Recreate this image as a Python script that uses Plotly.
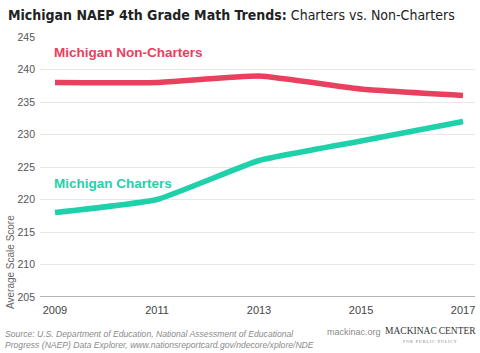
import plotly.graph_objects as go

years = [2009, 2011, 2013, 2015, 2017]
non_charters = [238, 238, 239, 237, 236]
charters = [218, 220, 226, 229, 232]
y_ticks = [205, 210, 215, 220, 225, 230, 235, 240, 245]

RED = "#e8405e"
TEAL = "#1fd1aa"

W, H = 480, 353
L, R, T, B = 40, 5, 37, 56
pw, ph = W - L - R, H - T - B

def px(x):
    return (x - L) / pw

def py(y):
    return (H - B - y) / ph

fig = go.Figure()
fig.add_trace(go.Scatter(x=years, y=non_charters, mode="lines",
                         line=dict(color=RED, width=5.5, shape="spline", smoothing=0.4),
                         hoverinfo="skip"))
fig.add_trace(go.Scatter(x=years, y=charters, mode="lines",
                         line=dict(color=TEAL, width=5.5, shape="spline", smoothing=0.4),
                         hoverinfo="skip"))

ann = []
ann.append(dict(text="Michigan Non-Charters", x=2009, y=242.6, xref="x", yref="y",
                xanchor="left", yanchor="middle", xshift=-3, showarrow=False,
                font=dict(family="Arial", size=13.5, color=RED, weight="bold")))
ann.append(dict(text="Michigan Charters", x=2009, y=222.4, xref="x", yref="y",
                xanchor="left", yanchor="middle", xshift=-3, showarrow=False,
                font=dict(family="Arial", size=13.5, color=TEAL, weight="bold")))
ann.append(dict(text="<b>Michigan NAEP 4th Grade Math Trends:</b> Charters vs. Non-Charters",
                x=px(6), y=py(15), xref="paper", yref="paper", xanchor="left", yanchor="middle",
                showarrow=False,
                font=dict(family="DejaVu Sans Condensed, Arial", size=14, color="#222")))
ann.append(dict(text="Average Scale Score", x=px(10), y=py(262), xref="paper", yref="paper",
                xanchor="center", yanchor="middle", textangle=-90, showarrow=False,
                font=dict(family="Arial", size=10, color="#666")))
ann.append(dict(text="<i>Source: U.S. Department of Education, National Assessment of Educational<br>Progress (NAEP) Data Explorer, www.nationsreportcard.gov/ndecore/xplore/NDE</i>",
                x=px(3), y=py(339), xref="paper", yref="paper", xanchor="left", yanchor="middle",
                align="left", showarrow=False,
                font=dict(family="Arial", size=8.6, color="#8a8a8a")))
ann.append(dict(text="mackinac.org", x=px(325), y=py(332), xref="paper", yref="paper",
                xanchor="left", yanchor="middle", showarrow=False,
                font=dict(family="Arial", size=9, color="#8a8a8a")))
ann.append(dict(text="MACKINAC\u2009CENTER", x=px(430), y=py(331), xref="paper", yref="paper",
                xanchor="center", yanchor="middle", showarrow=False,
                font=dict(family="Liberation Serif, DejaVu Serif", size=9.5, color="#333")))
ann.append(dict(text="F O R   P U B L I C   P O L I C Y", x=px(430), y=py(341), xref="paper", yref="paper",
                xanchor="center", yanchor="middle", showarrow=False,
                font=dict(family="Liberation Serif", size=4, color="#777")))

fig.update_layout(
    width=W, height=H,
    margin=dict(l=L, r=R, t=T, b=B),
    paper_bgcolor="white", plot_bgcolor="white",
    showlegend=False,
    annotations=ann,
    xaxis=dict(range=[2008.706, 2017.235], tickvals=years, ticktext=[str(y) for y in years],
               showgrid=False, zeroline=False, showline=False, ticks="",
               tickfont=dict(family="Arial", size=11, color="#444"), ticklabelstandoff=5),
    yaxis=dict(range=[205, 245], tickvals=y_ticks, showgrid=True, gridcolor="#e8e8e8",
               gridwidth=1, zeroline=False, showline=False, ticks="",
               tickfont=dict(family="Arial", size=10.5, color="#555"), ticklabelstandoff=4),
    shapes=[dict(type="line", xref="paper", yref="y", x0=0, x1=1, y0=205, y1=205,
                 line=dict(color="#9a9a9a", width=1.5))],
)

fig.write_html("out.html")
